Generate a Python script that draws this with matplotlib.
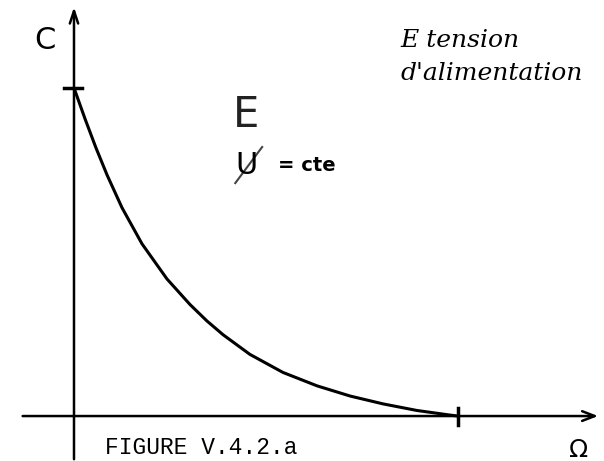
import matplotlib
matplotlib.use("Agg")
import matplotlib.pyplot as plt

# curve: Omega (0..1, tick at 1) and C (0..1, tick at 1)
omega = [0.0, 0.029, 0.057, 0.086, 0.125, 0.177, 0.242, 0.302, 0.346,
         0.388, 0.458, 0.544, 0.633, 0.719, 0.805, 0.893, 0.979, 1.0]
c_vals = [1.0, 0.905, 0.818, 0.735, 0.635, 0.525, 0.418, 0.340, 0.290,
          0.248, 0.188, 0.133, 0.092, 0.061, 0.037, 0.017, 0.003, 0.0]

x_label = "Ω"
y_label = "C"
caption = "FIGURE V.4.2.a"
note_top = "E tension\nd'alimentation"
note_e = "E"
note_u = "U"
note_cte = "= cte"

fig = plt.figure(figsize=(6.04, 4.61), dpi=100)
ax = fig.add_axes([0, 0, 1, 1])
ax.set_xlim(-0.1927, 1.3802)
ax.set_ylim(-0.137, 1.268)
ax.axis("off")

# axes with open arrow heads
ax.annotate("", xy=(1.372, 0), xytext=(-0.141, 0),
            arrowprops=dict(arrowstyle="->,head_length=0.9,head_width=0.35",
                            lw=1.8, color="black"))
ax.annotate("", xy=(0, 1.255), xytext=(0, -0.14),
            arrowprops=dict(arrowstyle="->,head_length=0.9,head_width=0.3",
                            lw=1.8, color="black"))

# tick marks
ax.plot([-0.025, 0.022], [1.0, 1.0], color="black", lw=2.5)
ax.plot([1.0, 1.0], [-0.028, 0.025], color="black", lw=2.5)

# the curve
ax.plot(omega, c_vals, color="black", lw=2.2, solid_capstyle="round",
        solid_joinstyle="round")

# labels
ax.text(-0.0755, 1.146, y_label, fontsize=22, ha="center", va="center",
        family="DejaVu Sans")
ax.text(1.315, -0.103, x_label, fontsize=18, ha="center", va="center",
        family="DejaVu Sans")
ax.text(0.08, -0.095, caption, fontsize=16.5, ha="left", va="center",
        family="Liberation Mono")

# handwritten notes
ax.text(0.448, 0.918, note_e, fontsize=30, ha="center", va="center",
        color="#222222", family="DejaVu Sans")
ax.text(0.45, 0.765, note_u, fontsize=22, ha="center", va="center",
        color="black", family="DejaVu Sans")
ax.plot([0.42, 0.49], [0.71, 0.82], color="#444444", lw=1.5)
ax.text(0.53, 0.765, note_cte, fontsize=14, ha="left", va="center",
        color="black", family="DejaVu Sans", fontweight="bold")
ax.text(0.85, 1.095, note_top, fontsize=18, ha="left", va="center",
        fontstyle="italic", family="DejaVu Serif", linespacing=1.55)

fig.savefig("out.png", dpi=100)
